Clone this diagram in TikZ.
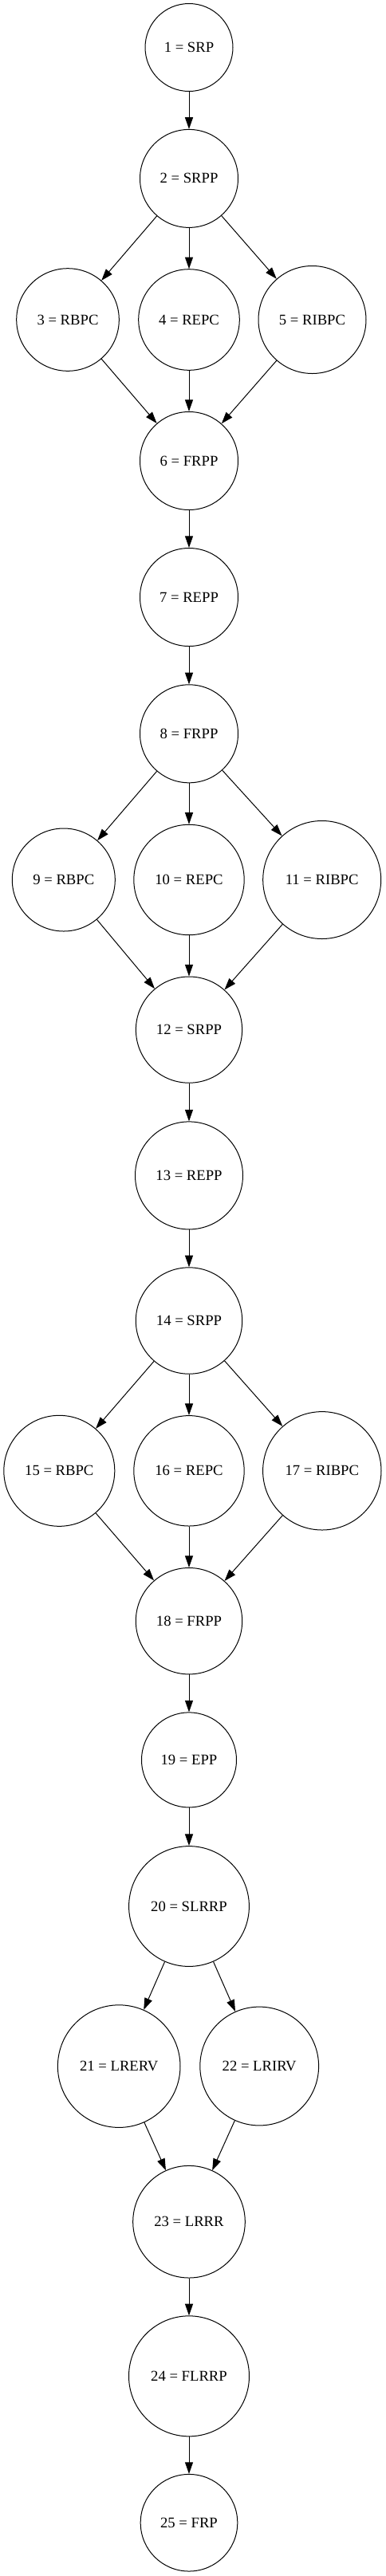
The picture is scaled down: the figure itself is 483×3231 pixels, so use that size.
\documentclass[tikz,border=0pt]{standalone}
\usepackage{fontspec}
\setmainfont{Liberation Serif}
\usetikzlibrary{arrows.meta}
\begin{document}
\begin{tikzpicture}[x=0.75pt,y=-0.75pt,
  nd/.style={circle,draw=black,line width=0.75pt,inner sep=0pt,font=\fontsize{14pt}{16pt}\selectfont},
  ar/.style={draw=black,line width=0.75pt,-{Triangle[length=11pt,width=7.5pt]}}]
\useasboundingbox (0,0) rectangle (483,3231);
\node[nd,minimum size=82.5pt]  (n1)  at (237,59.5)   {1 = SRP};
\node[nd,minimum size=92.25pt] (n2)  at (237,223.9)  {2 = SRPP};
\node[nd,minimum size=96.45pt] (n3)  at (85,401)     {3 = RBPC};
\node[nd,minimum size=94.95pt] (n4)  at (237,401)    {4 = REPC};
\node[nd,minimum size=101.25pt](n5)  at (391.5,401)  {5 = RIBPC};
\node[nd,minimum size=92.25pt] (n6)  at (237,578)    {6 = FRPP};
\node[nd,minimum size=92.25pt] (n7)  at (237,749)    {7 = REPP};
\node[nd,minimum size=92.25pt] (n8)  at (237,920.3)  {8 = FRPP};
\node[nd,minimum size=96.75pt] (n9)  at (79.8,1103.5) {9 = RBPC};
\node[nd,minimum size=103.8pt] (n10) at (237,1103.5) {10 = REPC};
\node[nd,minimum size=111pt]   (n11) at (403.7,1103.5) {11 = RIBPC};
\node[nd,minimum size=99.9pt]  (n12) at (237,1291.6) {12 = SRPP};
\node[nd,minimum size=101.25pt](n13) at (237,1474.4) {13 = REPP};
\node[nd,minimum size=100.05pt](n14) at (237,1656.5) {14 = SRPP};
\node[nd,minimum size=104.25pt](n15) at (74.3,1844.8) {15 = RBPC};
\node[nd,minimum size=103.8pt] (n16) at (237,1844.8) {16 = REPC};
\node[nd,minimum size=111.3pt] (n17) at (403.8,1844.8) {17 = RIBPC};
\node[nd,minimum size=100.05pt](n18) at (237,2033.2) {18 = FRPP};
\node[nd,minimum size=89.25pt] (n19) at (237,2207.4) {19 = EPP};
\node[nd,minimum size=113.1pt] (n20) at (237,2391)   {20 = SLRRP};
\node[nd,minimum size=115.2pt] (n21) at (149.2,2591.6) {21 = LRERV};
\node[nd,minimum size=111.6pt] (n22) at (325.2,2591.5) {22 = LRIRV};
\node[nd,minimum size=105.45pt](n23) at (237,2786.7) {23 = LRRR};
\node[nd,minimum size=113.25pt](n24) at (237,2980.3) {24 = FLRRP};
\node[nd,minimum size=91.2pt]  (n25) at (237,3164.2) {25 = FRP};
\draw[ar] (n1) -- (n2);
\draw[ar] (n2) -- (n3);
\draw[ar] (n2) -- (n4);
\draw[ar] (n2) -- (n5);
\draw[ar] (n3) -- (n6);
\draw[ar] (n4) -- (n6);
\draw[ar] (n5) -- (n6);
\draw[ar] (n6) -- (n7);
\draw[ar] (n7) -- (n8);
\draw[ar] (n8) -- (n9);
\draw[ar] (n8) -- (n10);
\draw[ar] (n8) -- (n11);
\draw[ar] (n9) -- (n12);
\draw[ar] (n10) -- (n12);
\draw[ar] (n11) -- (n12);
\draw[ar] (n12) -- (n13);
\draw[ar] (n13) -- (n14);
\draw[ar] (n14) -- (n15);
\draw[ar] (n14) -- (n16);
\draw[ar] (n14) -- (n17);
\draw[ar] (n15) -- (n18);
\draw[ar] (n16) -- (n18);
\draw[ar] (n17) -- (n18);
\draw[ar] (n18) -- (n19);
\draw[ar] (n19) -- (n20);
\draw[ar] (n20) -- (n21);
\draw[ar] (n20) -- (n22);
\draw[ar] (n21) -- (n23);
\draw[ar] (n22) -- (n23);
\draw[ar] (n23) -- (n24);
\draw[ar] (n24) -- (n25);
\end{tikzpicture}
\end{document}
